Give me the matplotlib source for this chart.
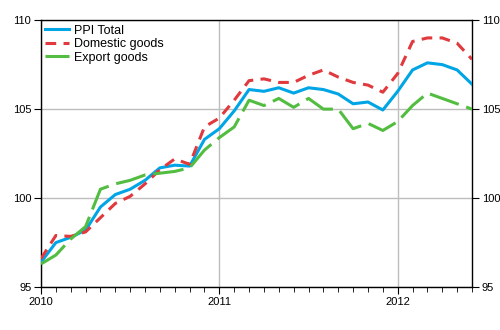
import matplotlib
matplotlib.use('Agg')
import matplotlib.pyplot as plt
from matplotlib.ticker import MultipleLocator
import numpy as np

plt.rcParams['font.family'] = ['Liberation Sans', 'DejaVu Sans']

# monthly index, Jan 2010 .. Jun 2012
months = np.arange(30)
years = [2010, 2011, 2012]

ppi_total = [96.4, 97.5, 97.8, 98.2, 99.5, 100.2, 100.5, 101.0, 101.7, 101.85,
             101.8, 103.3, 103.9, 104.9, 106.1, 106.0, 106.2, 105.9, 106.2, 106.1,
             105.85, 105.3, 105.4, 104.95, 106.0, 107.2, 107.6, 107.5, 107.2, 106.4]
domestic = [96.6, 97.9, 97.85, 98.1, 98.9, 99.7, 100.1, 100.8, 101.6, 102.2,
            101.9, 104.0, 104.5, 105.5, 106.6, 106.7, 106.5, 106.5, 106.9, 107.2,
            106.8, 106.5, 106.35, 105.95, 107.0, 108.8, 109.0, 109.0, 108.7, 107.8]
export = [96.3, 96.8, 97.7, 98.4, 100.5, 100.8, 101.0, 101.3, 101.4, 101.5,
          101.7, 102.7, 103.4, 104.0, 105.5, 105.2, 105.6, 105.1, 105.6, 105.0,
          105.0, 103.9, 104.2, 103.8, 104.3, 105.2, 105.9, 105.6, 105.3, 105.0]

x = 2010 + months / 12.0

fig = plt.figure(figsize=(5, 3.3), dpi=100)
ax = fig.add_axes([0.082, 0.13, 0.862, 0.809])

ax.plot(x, ppi_total, color='#00A5E6', lw=2.2, label='PPI Total', zorder=3)
ax.plot(x, domestic, color='#E0393E', lw=2.2, dashes=(3.5, 2.4), label='Domestic goods', zorder=3)
ax.plot(x, export, color='#52BD40', lw=2.2, dashes=(10, 2.6), label='Export goods', zorder=3)

ax.set_xlim(x[0], x[-1])
ax.set_ylim(95, 110)
ax.set_yticks([95, 100, 105, 110])
ax.set_xticks(years)
ax.xaxis.set_minor_locator(MultipleLocator(1 / 12.0))
ax.grid(True, color='#bdbdbd', lw=1)
ax.set_axisbelow(True)

ax.tick_params(axis='y', which='both', direction='out', length=5, labelsize=8,
               left=True, right=True, labelleft=True, labelright=True, pad=2)
ax.tick_params(axis='x', which='major', direction='out', length=5, labelsize=8, pad=2)
ax.tick_params(axis='x', which='minor', direction='out', length=3.5)
ax.set_xticklabels([str(y) for y in years])

for s in ax.spines.values():
    s.set_color('black')
    s.set_linewidth(1)

leg = ax.legend(loc='upper left', frameon=False, fontsize=9, handlelength=1.9,
                handletextpad=0.4, labelspacing=0.12, borderaxespad=0.1,
                borderpad=0.25)

fig.savefig('out.png', dpi=100)
